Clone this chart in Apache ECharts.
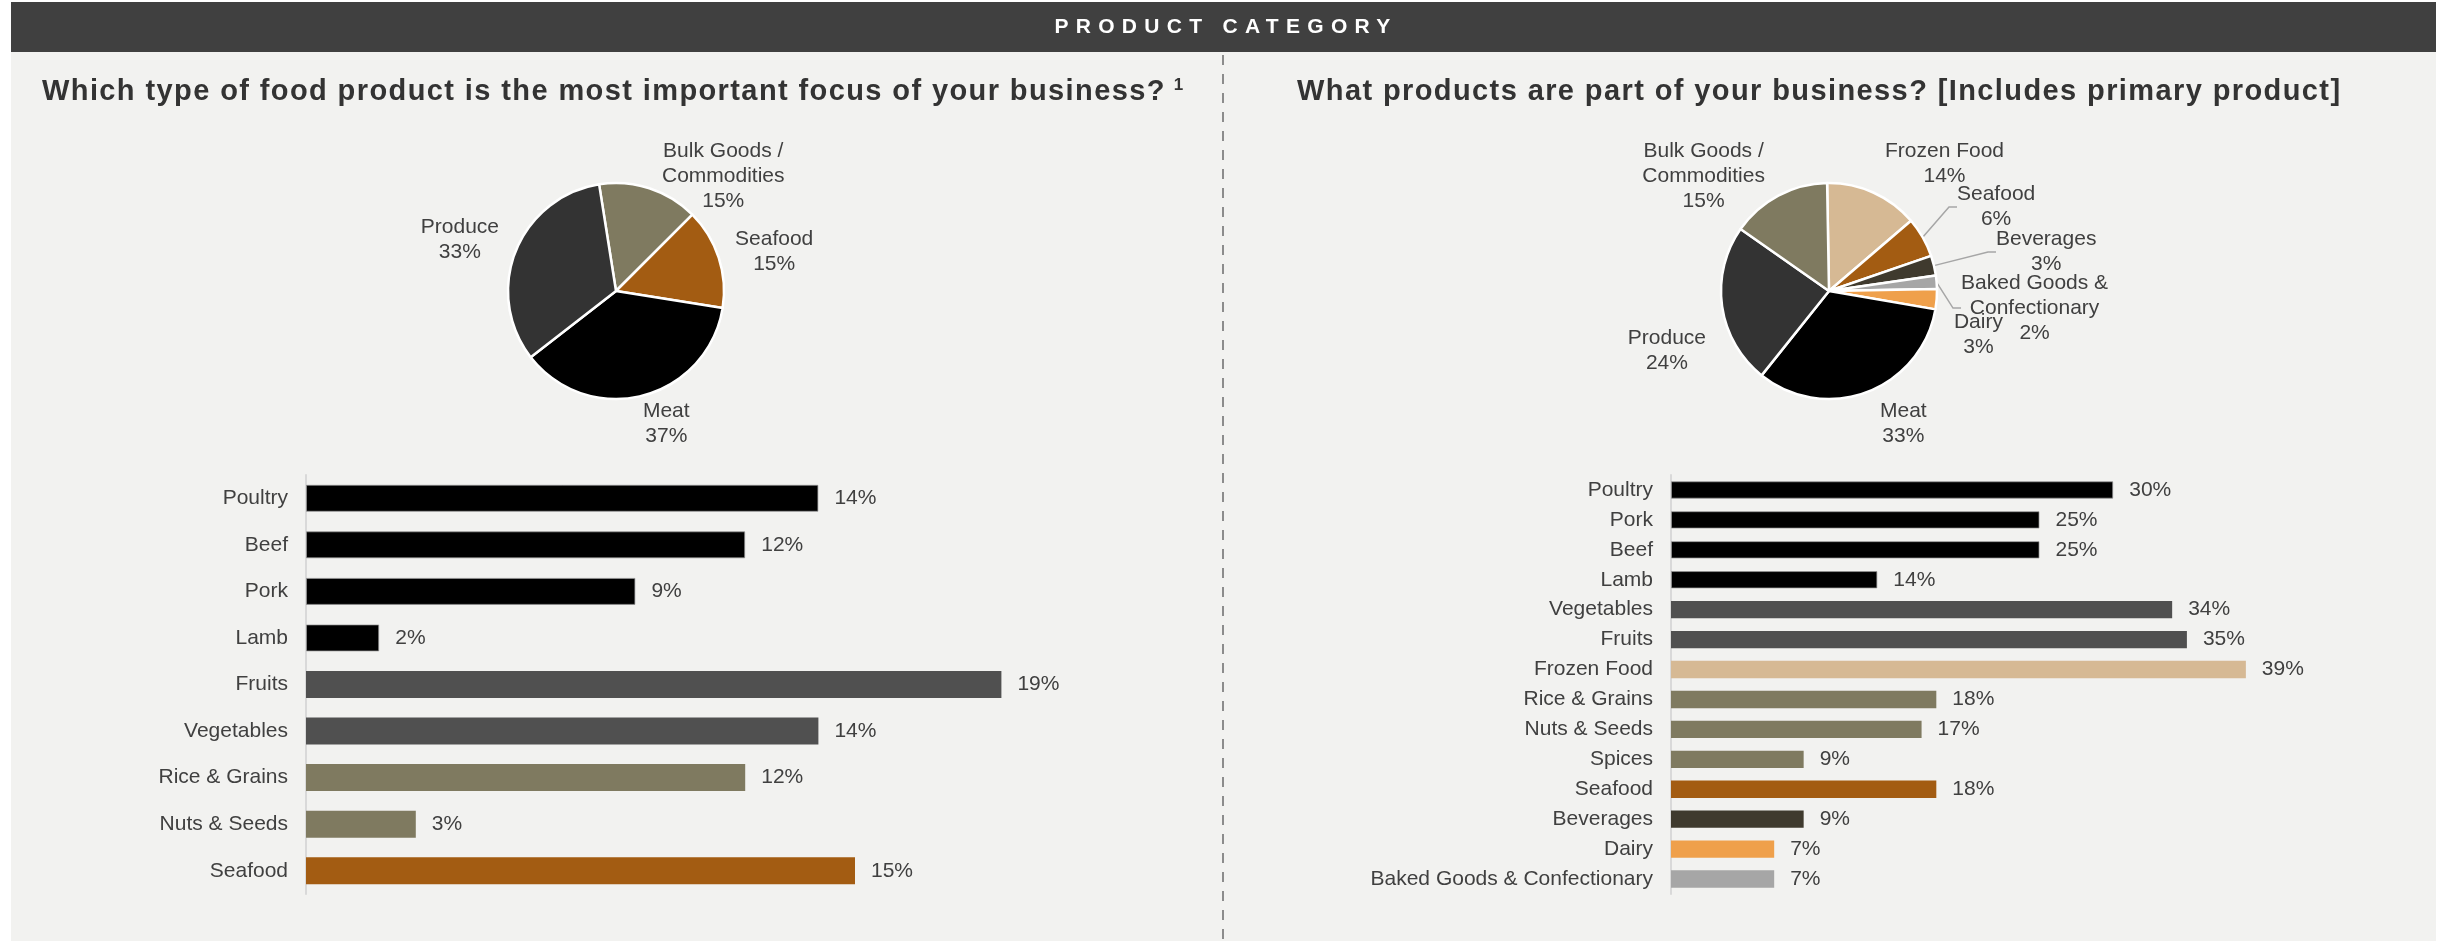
<!DOCTYPE html>
<html>
<head>
<meta charset="utf-8">
<title>Product Category</title>
<script src="https://cdn.jsdelivr.net/npm/echarts@6/dist/echarts.min.js"></script>
<style>
  html, body { margin: 0; padding: 0; background: #ffffff; }
  #chart { width: 2450px; height: 941px; }
</style>
</head>
<body>
<div id="chart"></div>
<script>
// ---- Data (shares in percent) ----
const focusPieNames = ['Bulk Goods /\nCommodities', 'Seafood', 'Meat', 'Produce'];
const focusPieValues = [15, 15, 37, 33];

const mixPieNames = ['Frozen Food', 'Seafood', 'Beverages', 'Baked Goods &\nConfectionary', 'Dairy', 'Meat', 'Produce', 'Bulk Goods /\nCommodities'];
const mixPieValues = [14, 6, 3, 2, 3, 33, 24, 15];

const focusBarCategories = ['Poultry', 'Beef', 'Pork', 'Lamb', 'Fruits', 'Vegetables', 'Rice & Grains', 'Nuts & Seeds', 'Seafood'];
const focusBarValues = [14, 12, 9, 2, 19, 14, 12, 3, 15];

const mixBarCategories = ['Poultry', 'Pork', 'Beef', 'Lamb', 'Vegetables', 'Fruits', 'Frozen Food', 'Rice & Grains', 'Nuts & Seeds', 'Spices', 'Seafood', 'Beverages', 'Dairy', 'Baked Goods & Confectionary'];
const mixBarValues = [30, 25, 25, 14, 34, 35, 39, 18, 17, 9, 18, 9, 7, 7];

const leftTitle = 'Which type of food product is the most important focus of your business?';
const rightTitle = 'What products are part of your business? [Includes primary product]';
const headerText = 'PRODUCT CATEGORY';

// ---- Styling ----
const FONT = '"Liberation Sans", Arial, Helvetica, sans-serif';
const TEXT = '#404040';
const C = {
  meat: '#000000', produce: '#333333', veg: '#505050', bulk: '#7f7a60',
  seafood: '#a35c12', frozen: '#d6b994', bev: '#3f3a2e', baked: '#a6a6a6', dairy: '#efa04b'
};
const focusPieColors = [C.bulk, C.seafood, C.meat, C.produce];
const mixPieColors = [C.frozen, C.seafood, C.bev, C.baked, C.dairy, C.meat, C.produce, C.bulk];
const focusBarColors = [C.meat, C.meat, C.meat, C.meat, C.veg, C.veg, C.bulk, C.bulk, C.seafood];
const mixBarColors = [C.meat, C.meat, C.meat, C.meat, C.veg, C.veg, C.frozen, C.bulk, C.bulk, C.bulk, C.seafood, C.bev, C.dairy, C.baked];

// label offsets from the default outside position (px)
const focusLabelNudge = [[1.5, -4.3], [-1.2, -4.5], [-10.4, 16.7], [0.7, -10.1]];
const mixLabelNudge = [[-0.4, -21.9], [17.6, -27.4], [44.3, -13.3], [6.4, 24.5], [-0.7, 32.4], [1.1, 20.7], [1.8, 40.9], [-0.7, -12.3]];
const mixLeaderLines = [false, true, true, true, false, false, false, false];

// Tracking (letter spacing, px) for the bold headings, keyed by font size.
// Set explicitly on every measure/draw call so nothing else is affected.
const HEADING_TRACKING = { '29px': 1.4, '21px': 7.3 };
(function () {
  const proto = CanvasRenderingContext2D.prototype;
  if (!('letterSpacing' in proto)) return;
  function trackingFor(font) {
    if (!/(^|\s)(bold|700)(\s|$)/.test(font)) return 0;
    const m = /(\d+(?:\.\d+)?px)/.exec(font);
    return m ? (HEADING_TRACKING[m[1]] || 0) : 0;
  }
  function withTracking(fn) {
    return function () {
      this.letterSpacing = trackingFor(this.font) + 'px';
      const r = fn.apply(this, arguments);
      this.letterSpacing = '0px';
      return r;
    };
  }
  proto.fillText = withTracking(proto.fillText);
  proto.strokeText = withTracking(proto.strokeText);
  proto.measureText = withTracking(proto.measureText);
})();

const chart = echarts.init(document.getElementById('chart'), null, { renderer: 'canvas' });

function pieLabelFormatter(p) {
  const lines = p.name.split('\n').map(s => '{c|' + s + '}');
  lines.push('{c|' + p.value + '%}');
  return lines.join('\n');
}
const pieRich = { c: { align: 'center', fontSize: 21, fontWeight: 'normal', lineHeight: 25, color: TEXT, fontFamily: FONT } };

function pieSeries(center, startAngle, names, values, colors, nudge, leaders) {
  return {
    type: 'pie',
    center: center,
    radius: 108,
    startAngle: startAngle,
    clockwise: true,
    avoidLabelOverlap: false,
    silent: true,
    animation: false,
    itemStyle: { borderColor: '#ffffff', borderWidth: 2.5 },
    label: {
      show: true, position: 'outside', distanceToLabelLine: 0,
      formatter: pieLabelFormatter, rich: pieRich, fontFamily: FONT, fontSize: 21, fontWeight: 'normal', color: TEXT
    },
    labelLine: { length: 10, length2: 8, minTurnAngle: 90, lineStyle: { color: '#a6a6a6', width: 1.5 } },
    labelLayout: function (p) {
      const n = nudge[p.dataIndex] || [0, 0];
      return { x: p.labelRect.x + n[0], y: p.labelRect.y + n[1], align: 'left', verticalAlign: 'top' };
    },
    data: names.map((name, i) => ({
      name: name,
      value: values[i],
      itemStyle: { color: colors[i] },
      labelLine: { show: leaders ? leaders[i] : false }
    }))
  };
}

function barSeries(idx, values, colors) {
  return {
    type: 'bar',
    xAxisIndex: idx, yAxisIndex: idx,
    barCategoryGap: '42%',
    silent: true,
    animation: false,
    label: {
      show: true, position: 'right', distance: 16, formatter: '{c}%',
      fontFamily: FONT, fontSize: 21, fontWeight: 'normal', color: TEXT
    },
    data: values.map((v, i) => ({
      value: v,
      itemStyle: colors[i] === C.meat
        ? { color: colors[i], borderColor: 'rgba(150,150,150,0.7)', borderWidth: 1 }
        : { color: colors[i] }
    }))
  };
}

function catAxis(idx, cats) {
  return {
    type: 'category', gridIndex: idx, data: cats, inverse: true,
    axisLine: { show: true, lineStyle: { color: '#d9d9d9', width: 2 } },
    axisTick: { show: false },
    axisLabel: { margin: 18, fontFamily: FONT, fontSize: 21, fontWeight: 'normal', color: TEXT }
  };
}
function valAxis(idx, max) {
  return { type: 'value', gridIndex: idx, min: 0, max: max, show: false, splitLine: { show: false } };
}

function heading(text, sup, left) {
  return {
    left: left, top: 77, padding: 0,
    text: '{t|' + text + '}' + (sup ? '{s|' + sup + '}' : ''),
    textStyle: {
      rich: {
        t: { fontFamily: FONT, fontSize: 29, fontWeight: 'bold', color: '#333333', lineHeight: 29 },
        s: { fontFamily: FONT, fontSize: 17, fontWeight: 'bold', color: '#333333', lineHeight: 17, verticalAlign: 'top', padding: [0, 0, 0, 8] }
      }
    }
  };
}

chart.setOption({
  backgroundColor: '#ffffff',
  animation: false,
  title: [heading(leftTitle, '1', 42), heading(rightTitle, '', 1297)],
  graphic: [
    { type: 'rect', z: -10, silent: true, shape: { x: 11, y: 52, width: 2425, height: 889 }, style: { fill: '#f2f2f0' } },
    { type: 'rect', z: -9, silent: true, shape: { x: 11, y: 2, width: 2425, height: 50 }, style: { fill: '#404040' } },
    { type: 'text', z: -8, silent: true, x: 1226, y: 27,
      style: { text: headerText, fill: '#ffffff', font: 'bold 21px ' + FONT, textAlign: 'center', textVerticalAlign: 'middle' } },
    { type: 'line', z: -8, silent: true, shape: { x1: 1223, y1: 55, x2: 1223, y2: 941 },
      style: { stroke: '#8c8c8c', lineWidth: 2, lineDash: [10, 9] } }
  ],
  grid: [
    { left: 306, top: 475, width: 732, height: 419 },
    { left: 1671, top: 475, width: 589.6, height: 419 }
  ],
  xAxis: [valAxis(0, 20), valAxis(1, 40)],
  yAxis: [catAxis(0, focusBarCategories), catAxis(1, mixBarCategories)],
  series: [
    pieSeries([616, 291], 99, focusPieNames, focusPieValues, focusPieColors, focusLabelNudge, null),
    pieSeries([1829, 291], 91, mixPieNames, mixPieValues, mixPieColors, mixLabelNudge, mixLeaderLines),
    barSeries(0, focusBarValues, focusBarColors),
    barSeries(1, mixBarValues, mixBarColors)
  ]
});
</script>
</body>
</html>
